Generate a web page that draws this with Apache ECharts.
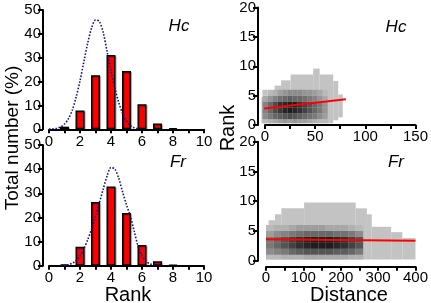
<!DOCTYPE html>
<html><head><meta charset="utf-8">
<script src="https://cdn.jsdelivr.net/npm/echarts@6/dist/echarts.min.js"></script>
<style>html,body{margin:0;padding:0;background:#fff}#c{width:431px;height:303px}</style>
</head><body><div id="c"></div>
<script>
// ---------- DATA ----------
const rankCats = [1, 2, 3, 4, 5, 6, 7, 8];
const hcPercent = [1.1, 7.9, 22.7, 31.1, 24.4, 10.5, 2.4, 0.5];
const frPercent = [0.5, 7.9, 26.4, 32.8, 21.8, 8.6, 1.8, 0.3];

const hcCurveX = [0, 0.25, 0.5, 0.75, 1.0, 1.25, 1.5, 1.75, 2.0, 2.25, 2.5, 2.75, 3.0, 3.25, 3.5, 3.75, 4.0, 4.25, 4.5, 4.75, 5.0, 5.25, 5.5, 5.75];
const hcCurveY = [0.1, 0.2, 0.45, 1.0, 2.2, 4.4, 8.0, 13.5, 20.3, 28.4, 36.2, 42.5, 45.8, 45.2, 40.5, 32.5, 24.5, 17.3, 11.2, 6.6, 3.4, 1.6, 0.6, 0.2];
const frCurveX = [0.75, 1.0, 1.25, 1.5, 1.75, 2.0, 2.25, 2.5, 2.75, 3.0, 3.25, 3.5, 3.75, 4.0, 4.25, 4.5, 4.75, 5.0, 5.25, 5.5, 5.75, 6.0, 6.25, 6.5, 6.75, 7.0];
const frCurveY = [0.1, 0.2, 0.4, 1.0, 2.1, 4.0, 7.0, 10.8, 15.2, 20.3, 26.0, 31.8, 37.2, 40.7, 40.0, 36.2, 30.5, 25.2, 20.5, 14.2, 8.0, 4.2, 1.9, 0.8, 0.3, 0.1];

// density envelope columns: [distanceFrom, distanceTo, rankMin, rankMax]
const hcEnvelope = [
  [-3.5, 3, 0.3, 4.7], [3, 9.5, 0.3, 5.9], [9.5, 16, 0.3, 6.7], [16, 25.5, 0.3, 7.6],
  [25.5, 48, 0.3, 8.6], [48, 54.5, 0.3, 9.6], [54.5, 68, 0.3, 8.6], [68, 73, 0.8, 7.5], [73, 77.5, 1.3, 5.2]
];
const frEnvelope = [
  [0, 7, 0.2, 5.7], [7, 24, 0.2, 6.8], [24, 41, 0.2, 7.8], [41, 102, 0.2, 8.8], [102, 240, 0.2, 9.8],
  [240, 270, 0.2, 8.8], [270, 283, 0.2, 7.8], [283, 335, 0.2, 5.7], [335, 365, 0.2, 4.8], [365, 400, 0.2, 3.8]
];

// density core: column edges (distance), row edges (rank), darkness 0..1 (rows bottom->top)
const hcCoreColEdges = [-2.5, 2.5, 7.5, 12.5, 17.5, 22.5, 27.5, 32.5, 37.5, 42.5, 47.5, 52.5, 57.5, 62.5];
const hcCoreRowEdges = [0.3, 1, 2, 3, 4, 5, 6];
const hcCoreDarkness = [
  [0.05, 0.1, 0.15, 0.2, 0.25, 0.2, 0.25, 0.2, 0.2, 0.15, 0.1, 0.05, 0.05],
  [0.3, 0.4, 0.5, 0.55, 0.6, 0.65, 0.6, 0.55, 0.5, 0.45, 0.4, 0.3, 0.2],
  [0.35, 0.5, 0.65, 0.75, 0.85, 0.9, 0.85, 0.8, 0.7, 0.6, 0.5, 0.4, 0.25],
  [0.35, 0.5, 0.65, 0.8, 0.85, 0.9, 0.9, 0.8, 0.7, 0.6, 0.5, 0.4, 0.25],
  [0.15, 0.25, 0.35, 0.45, 0.5, 0.55, 0.5, 0.5, 0.45, 0.4, 0.35, 0.25, 0.15],
  [0.0, 0.05, 0.1, 0.2, 0.25, 0.3, 0.3, 0.3, 0.25, 0.25, 0.2, 0.15, 0.05]
];
const frCoreColEdges = [0, 20, 40, 60, 80, 100, 120, 140, 160, 180, 200, 220, 240, 260];
const frCoreRowEdges = [0.2, 1, 2, 3, 4, 5, 6];
const frCoreDarkness = [
  [0.05, 0.05, 0.1, 0.1, 0.1, 0.15, 0.15, 0.15, 0.15, 0.15, 0.15, 0.1, 0.1],
  [0.3, 0.35, 0.4, 0.5, 0.55, 0.6, 0.6, 0.6, 0.6, 0.55, 0.55, 0.5, 0.4],
  [0.4, 0.5, 0.6, 0.7, 0.8, 0.85, 0.9, 0.9, 0.9, 0.85, 0.8, 0.7, 0.6],
  [0.4, 0.5, 0.6, 0.7, 0.8, 0.85, 0.9, 0.9, 0.9, 0.85, 0.8, 0.7, 0.6],
  [0.2, 0.3, 0.35, 0.4, 0.45, 0.5, 0.5, 0.5, 0.5, 0.45, 0.45, 0.4, 0.3],
  [0.05, 0.1, 0.1, 0.15, 0.2, 0.2, 0.2, 0.2, 0.15, 0.15, 0.15, 0.1, 0.05]
];

// regression lines [distance, rank]
const hcFit = [[-2.3, 2.78], [80.6, 4.4]];
const frFit = [[0, 3.6], [400, 3.36]];

// ---------- BUILD ----------
const FONT = "'Liberation Sans', Arial, sans-serif";
const zip = (a, b) => a.map((v, i) => [v, b[i]]);
function coreCells(cols, rows, dark) {
  const out = [];
  for (let r = 0; r < rows.length - 1; r++)
    for (let c = 0; c < cols.length - 1; c++)
      out.push([cols[c], cols[c + 1], rows[r], rows[r + 1], dark[r][c]]);
  return out;
}
const LIGHT = 195;
function rectItem(params, api, fill) {
  const p0 = api.coord([api.value(0), api.value(3)]);
  const p1 = api.coord([api.value(1), api.value(2)]);
  return { type: 'rect', shape: { x: p0[0], y: p0[1], width: p1[0] - p0[0], height: p1[1] - p0[1] },
    style: { fill: fill } };
}
const envRender = (params, api) => rectItem(params, api, 'rgb(' + LIGHT + ',' + LIGHT + ',' + LIGHT + ')');
const coreRender = (params, api) => {
  const t = api.value(4);
  const g = Math.round(LIGHT * (1 - t) + 12 * t);
  return rectItem(params, api, 'rgb(' + g + ',' + g + ',' + g + ')');
};

const axisLine = { show: true, onZero: false, lineStyle: { color: '#000', width: 2 } };
const axisTick = (len) => ({ show: true, length: len, lineStyle: { color: '#000', width: 2 } });
const lbl = (extra) => Object.assign({ color: '#000', fontSize: 15, fontFamily: FONT }, extra || {});

const option = {
  animation: false,
  backgroundColor: '#fff',
  grid: [
    { left: 49, top: 10, width: 155, height: 119.3 },
    { left: 49, top: 145, width: 155, height: 120.7 },
    { left: 265, top: 5, width: 155, height: 120 },
    { left: 266, top: 141.7, width: 154, height: 119 }
  ],
  xAxis: [
    { gridIndex: 0, type: 'value', min: 0, max: 10, interval: 1, axisLine, axisTick: axisTick(4), splitLine: { show: false },
      axisLabel: lbl({ margin: 5, formatter: v => (v % 2 === 0 ? String(v) : '') }) },
    { gridIndex: 1, type: 'value', min: 0, max: 10, interval: 1, axisLine, axisTick: axisTick(4), splitLine: { show: false },
      axisLabel: lbl({ margin: 5, formatter: v => (v % 2 === 0 ? String(v) : '') }) },
    { gridIndex: 2, type: 'value', min: 0, max: 150, interval: 25, axisLine, axisTick: axisTick(4), splitLine: { show: false },
      axisLabel: lbl({ margin: 4, formatter: v => (v % 50 === 0 ? String(v) : '') }) },
    { gridIndex: 3, type: 'value', min: 0, max: 400, interval: 50, offset: 6, axisLine, axisTick: axisTick(4), splitLine: { show: false },
      axisLabel: lbl({ margin: 4, formatter: v => (v % 100 === 0 ? String(v) : '') }) }
  ],
  yAxis: [
    { gridIndex: 0, type: 'value', min: 0, max: 50, interval: 10, offset: 6, axisLine, axisTick: axisTick(5), splitLine: { show: false }, axisLabel: lbl({ margin: 2 }) },
    { gridIndex: 1, type: 'value', min: 0, max: 50, interval: 10, offset: 6, axisLine, axisTick: axisTick(5), splitLine: { show: false }, axisLabel: lbl({ margin: 2 }) },
    { gridIndex: 2, type: 'value', min: 0, max: 20, interval: 5, offset: 7, axisLine, axisTick: axisTick(5), splitLine: { show: false }, axisLabel: lbl({ margin: 2 }) },
    { gridIndex: 3, type: 'value', min: 0, max: 20, interval: 5, offset: 8, axisLine, axisTick: axisTick(5), splitLine: { show: false }, axisLabel: lbl({ margin: 2 }) }
  ],
  series: [
    { type: 'bar', xAxisIndex: 0, yAxisIndex: 0, data: zip(rankCats, hcPercent), barWidth: 9,
      itemStyle: { color: '#ff0000', borderColor: '#000', borderWidth: 1.5, shadowColor: 'rgba(0,0,0,0.3)', shadowOffsetX: 1, shadowOffsetY: 1, shadowBlur: 1 } },
    { type: 'line', xAxisIndex: 0, yAxisIndex: 0, data: zip(hcCurveX, hcCurveY), smooth: 0.3, symbol: 'none', z: 5,
      lineStyle: { color: '#14148c', width: 1.6, type: [1.6, 1.6] } },
    { type: 'bar', xAxisIndex: 1, yAxisIndex: 1, data: zip(rankCats, frPercent), barWidth: 9,
      itemStyle: { color: '#ff0000', borderColor: '#000', borderWidth: 1.5, shadowColor: 'rgba(0,0,0,0.3)', shadowOffsetX: 1, shadowOffsetY: 1, shadowBlur: 1 } },
    { type: 'line', xAxisIndex: 1, yAxisIndex: 1, data: zip(frCurveX, frCurveY), smooth: 0.3, symbol: 'none', z: 5,
      lineStyle: { color: '#14148c', width: 1.6, type: [1.6, 1.6] } },
    { type: 'custom', xAxisIndex: 2, yAxisIndex: 2, data: hcEnvelope, renderItem: envRender, clip: false, silent: true },
    { type: 'custom', xAxisIndex: 2, yAxisIndex: 2, data: coreCells(hcCoreColEdges, hcCoreRowEdges, hcCoreDarkness), renderItem: coreRender, clip: false, silent: true },
    { type: 'line', xAxisIndex: 2, yAxisIndex: 2, data: hcFit, symbol: 'none', clip: false, z: 5, lineStyle: { color: '#ff0000', width: 2 } },
    { type: 'custom', xAxisIndex: 3, yAxisIndex: 3, data: frEnvelope, renderItem: envRender, clip: false, silent: true },
    { type: 'custom', xAxisIndex: 3, yAxisIndex: 3, data: coreCells(frCoreColEdges, frCoreRowEdges, frCoreDarkness), renderItem: coreRender, clip: false, silent: true },
    { type: 'line', xAxisIndex: 3, yAxisIndex: 3, data: frFit, symbol: 'none', clip: false, z: 5, lineStyle: { color: '#ff0000', width: 2 } }
  ],
  graphic: [
    { type: 'text', x: 13, y: 138, rotation: Math.PI / 2, style: { text: 'Total number (%)', font: '19px ' + FONT, fill: '#000', align: 'center', verticalAlign: 'middle' } },
    { type: 'text', x: 128, y: 295, style: { text: 'Rank', font: '20px ' + FONT, fill: '#000', align: 'center', verticalAlign: 'middle' } },
    { type: 'text', x: 228, y: 128, rotation: Math.PI / 2, style: { text: 'Rank', font: '20px ' + FONT, fill: '#000', align: 'center', verticalAlign: 'middle' } },
    { type: 'text', x: 349, y: 295, style: { text: 'Distance', font: '20px ' + FONT, fill: '#000', align: 'center', verticalAlign: 'middle' } },
    { type: 'text', x: 179, y: 26, style: { text: 'Hc', font: 'italic 17px ' + FONT, fill: '#000', align: 'center', verticalAlign: 'middle' } },
    { type: 'text', x: 396, y: 27, style: { text: 'Hc', font: 'italic 17px ' + FONT, fill: '#000', align: 'center', verticalAlign: 'middle' } },
    { type: 'text', x: 178, y: 162, style: { text: 'Fr', font: 'italic 17px ' + FONT, fill: '#000', align: 'center', verticalAlign: 'middle' } },
    { type: 'text', x: 396, y: 162, style: { text: 'Fr', font: 'italic 17px ' + FONT, fill: '#000', align: 'center', verticalAlign: 'middle' } }
  ]
};
const chart = echarts.init(document.getElementById('c'), null, { renderer: 'canvas' });
chart.setOption(option);
</script>
</body></html>
